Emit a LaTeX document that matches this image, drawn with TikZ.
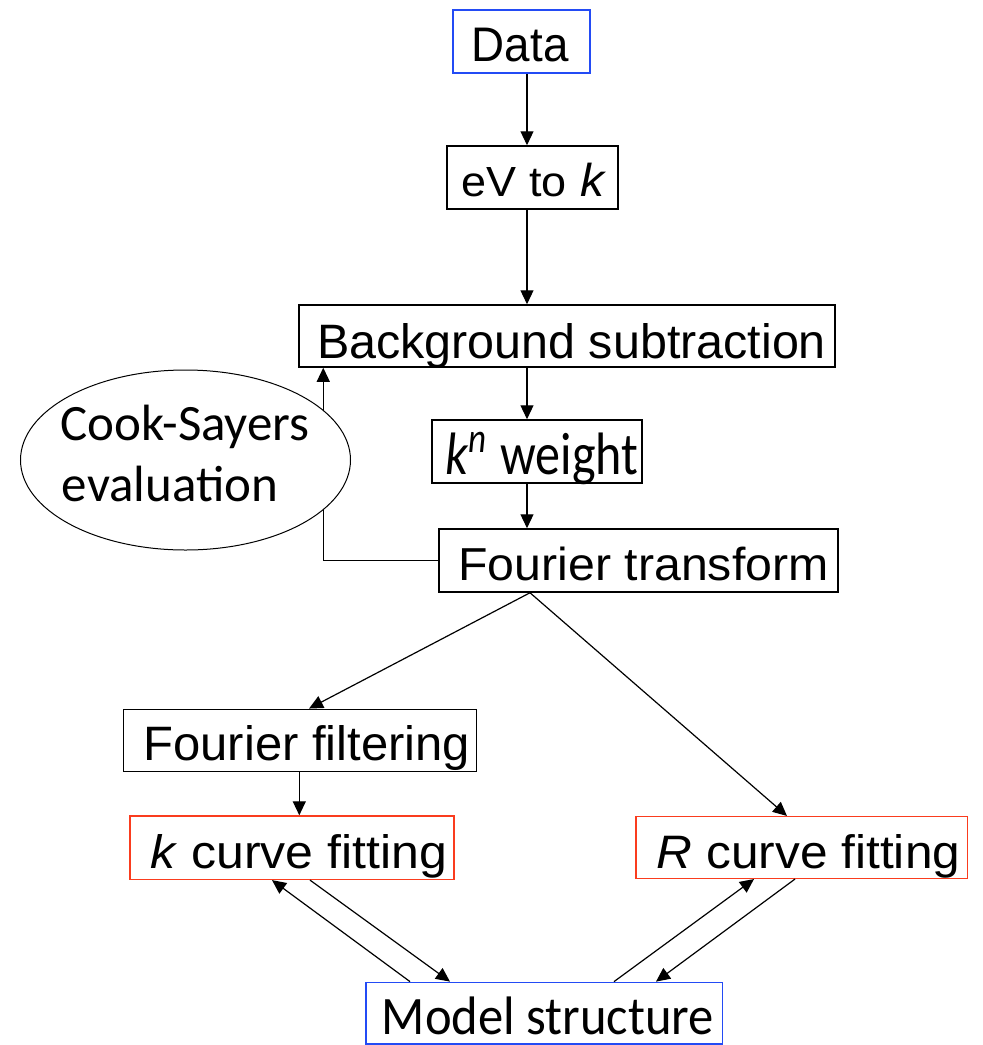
\documentclass[tikz,border=0pt]{standalone}
\usepackage{fontspec}
\usepackage{graphicx}
\setmainfont{Liberation Sans}
\newfontfamily\calib{Carlito}
\newfontfamily\calibdlig{Carlito}[Ligatures={Common,Rare}]
\usetikzlibrary{arrows.meta,shapes.geometric}
\definecolor{boxblue}{RGB}{35,75,245}
\definecolor{boxred}{RGB}{250,60,30}

\begin{document}
\begin{tikzpicture}[x=1pt,y=-1pt,
  box/.style={draw, line width=1.5pt, rectangle, inner sep=0pt},
  txt/.style={inner sep=0pt, anchor=base west},
  arr/.style={-{Triangle[length=14pt,width=13pt]}, line width=1.2pt},
  link/.style={line width=1.2pt}
]
\useasboundingbox (0,0) rectangle (983,1045);

% process boxes
\node[box, draw=boxblue, minimum width=137pt, minimum height=63pt] (data) at (521.5,41.5) {};
\node[box, minimum width=171pt, minimum height=63pt] (evk) at (532.5,177.5) {};
\node[box, minimum width=536pt, minimum height=62pt] (bg) at (567,336) {};
\node[box, minimum width=210pt, minimum height=63pt] (kn) at (537,451.5) {};
\node[box, minimum width=399pt, minimum height=63pt] (ft) at (638.5,560.5) {};
\node[box, minimum width=353.4pt, minimum height=62.4pt] (ff) at (300,740.5) {};
\node[box, draw=boxred, minimum width=324pt, minimum height=63.3pt] (kfit) at (292,847.7) {};
\node[box, draw=boxred, minimum width=331.3pt, minimum height=61.6pt] (rfit) at (801.7,847.5) {};
\node[box, draw=boxblue, minimum width=356.7pt, minimum height=61.7pt] (model) at (544.3,1013.2) {};
\node[draw, ellipse, line width=1pt, inner sep=0pt, minimum width=330pt, minimum height=180pt] (cs) at (185.5,460) {};

% labels
\node[txt] (data-t) at (471.7,61.7) {\resizebox{96.6pt}{33.4pt}{Data}};
\node[txt] (evk-t) at (461.7,196.7) {\resizebox{105pt}{29pt}{eV to}\hspace{13.3pt}\resizebox{24pt}{33.4pt}{\itshape k}};
\node[txt] (bg-t) at (316.8,358) {\resizebox{509pt}{35pt}{Background subtraction}};
\node[txt] (kn-t) at (445,474) {\calib\resizebox{193pt}{42pt}{\textit{k}\textsuperscript{\textit{n}} weight}};
\node[txt] (ft-t) at (458.3,580) {\resizebox{370pt}{33.5pt}{Fourier transform}};
\node[txt] (ff-t) at (143.3,760) {\resizebox{326.7pt}{35pt}{Fourier filtering}};
\node[txt] (kfit-t) at (150,868.3) {\resizebox{296.7pt}{34pt}{\textit{k} curve fitting}};
\node[txt] (rfit-t) at (656.7,868.3) {\resizebox{303.3pt}{34pt}{\textit{R} curve fitting}};
\node[txt] (model-t) at (381.7,1034.3) {\calib\resizebox{332pt}{37.6pt}{Model structure}};
\node[txt] (cs-t1) at (60,440) {\calib\fontsize{51}{61}\selectfont Cook-Sayers};
\node[txt] (cs-t2) at (61.7,501.7) {\calibdlig\fontsize{51}{61}\selectfont evaluation};

% main chain
\draw[arr] ([xshift=5.5pt]data.south) -- ([xshift=-5.5pt]evk.north);
\draw[arr] ([xshift=-5.5pt]evk.south) -- ([xshift=-40pt]bg.north);
\draw[arr] ([xshift=-40pt]bg.south) -- ([xshift=-10pt]kn.north);
\draw[arr] ([xshift=-10pt]kn.south) -- ([xshift=-111.5pt]ft.north);
\draw[arr] ([xshift=-108.5pt]ft.south) -- ([xshift=9pt]ff.north);
\draw[arr] ([xshift=-108.5pt]ft.south) -- ([xshift=-14.7pt]rfit.north);
\draw[arr] ([xshift=-0.7pt]ff.south) -- ([xshift=7.3pt]kfit.north);

% Cook-Sayers feedback loop
\draw[link] (ft.west) -| (cs.-20);
\draw[arr] (cs.20) -- (cs.20 |- bg.south);

% fitting against the model
\draw[arr] ([xshift=-134.3pt]model.north) -- ([xshift=-20pt]kfit.south);
\draw[arr] ([xshift=18pt]kfit.south) -- ([xshift=-94.3pt]model.north);
\draw[arr] ([xshift=69.7pt]model.north) -- ([xshift=-47.7pt]rfit.south);
\draw[arr] ([xshift=-6.7pt]rfit.south) -- ([xshift=111.7pt]model.north);
\end{tikzpicture}
\end{document}
